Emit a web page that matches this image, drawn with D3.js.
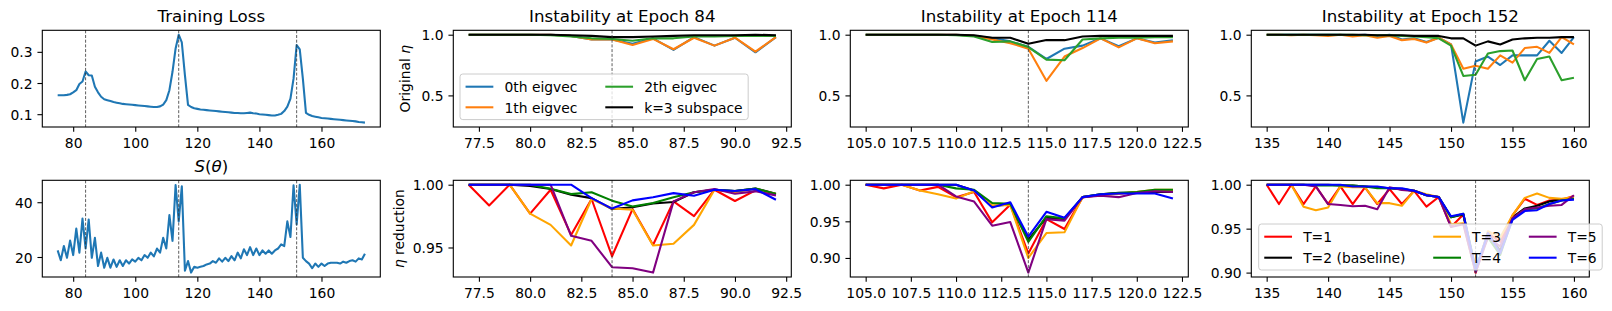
<html>
<script src="https://d3js.org/d3.v7.min.js"></script>
<style>
    body {margin: 0; background: white;}
    text {font-family: "DejaVu Sans", sans-serif; fill: black;}
</style>
<body>
<svg width=1612 height=311></svg>
<script>
// ---- data ----
const lossEpochs = [75,76,77,78,79,80,81,82,83,84,85,86,87,88,89,90,91,92,93,94,
    95,96,97,98,99,100,101,102,103,104,105,106,107,108,109,110,111,112,113,114,
    115,116,117,118,119,120,121,122,123,124,125,126,127,128,129,130,131,132,133,134,
    135,136,137,138,139,140,141,142,143,144,145,146,147,148,149,150,151,152,153,154,
    155,156,157,158,159,160,161,162,163,164,165,166,167,168,169,170,171,172,173,174];
const trainLoss = [0.161,0.161,0.161,0.162,0.164,0.170,0.177,0.197,0.205,0.237,
    0.225,0.224,0.188,0.170,0.156,0.148,0.145,0.142,0.139,0.137,
    0.135,0.133,0.132,0.131,0.130,0.129,0.128,0.127,0.126,0.125,
    0.124,0.123,0.123,0.125,0.131,0.145,0.177,0.236,0.311,0.355,
    0.330,0.225,0.130,0.123,0.119,0.117,0.115,0.114,0.113,0.112,
    0.111,0.110,0.109,0.108,0.107,0.106,0.105,0.104,0.104,0.103,
    0.103,0.104,0.105,0.103,0.102,0.100,0.099,0.098,0.097,0.096,
    0.096,0.098,0.101,0.110,0.124,0.150,0.214,0.322,0.308,0.214,
    0.104,0.098,0.094,0.092,0.090,0.088,0.087,0.086,0.085,0.084,
    0.083,0.082,0.081,0.080,0.079,0.078,0.077,0.075,0.074,0.073];
const sharpness = [22.4,18.8,24.0,19.7,26.0,20.7,30.4,21.6,34.0,23.1,
    33.7,19.7,27.0,16.7,21.6,16.1,19.7,16.1,19.1,16.4,
    18.8,16.7,18.8,17.6,19.1,18.3,19.7,18.8,20.7,19.7,
    21.6,20.2,23.1,21.6,27.0,23.1,35.3,25.9,46.3,33.0,
    45.8,15.0,18.5,14.3,16.4,16.1,16.4,16.7,17.3,17.6,
    18.5,17.9,19.5,18.3,19.7,18.5,20.3,18.8,21.6,19.5,
    22.8,20.7,23.6,20.7,23.1,20.7,22.4,21.2,22.4,21.2,
    22.4,23.1,24.6,24.0,33.0,27.3,46.2,31.9,46.4,19.7,
    18.5,17.6,15.9,17.6,16.4,17.6,16.7,17.6,17.9,17.9,
    17.9,17.6,18.3,17.9,18.5,18.8,18.3,19.5,19.1,21.2];

const instEpochs = [84, 114, 152];

const ep84 = [77,78,79,80,81,82,83,84,85,86,87,88,89,90,91,92];
const orig84 = [
    [1,1,1,1,1,0.99,0.96,0.96,0.925,0.97,0.875,0.98,0.91,0.975,0.855,0.98],
    [1,1,1,1,1,0.99,0.96,0.96,0.915,0.965,0.88,0.975,0.91,0.975,0.86,0.98],
    [1,1,1,1,0.995,0.985,0.97,0.965,0.95,0.97,0.97,0.985,0.985,0.99,0.99,0.99],
    [1,1,1,1,1,0.995,0.99,0.98,0.98,0.985,0.99,0.995,0.995,0.995,1,0.995]];
const red84 = [
    [1,0.9835,1,0.977,0.996,0.960,0.9886,0.943,0.9806,0.952,0.9867,0.975,0.996,0.987,0.9955,0.992],
    [1,1,1,0.999,0.9965,0.992,0.9893,0.9806,0.982,0.985,0.9862,0.994,0.996,0.995,0.997,0.9928],
    [1,1,1,0.9769,0.968,0.9516,0.9886,0.981,0.98,0.9516,0.953,0.968,0.996,0.994,0.9965,0.9925],
    [1,1,1,1,0.9968,0.9925,0.994,0.9873,0.9827,0.9854,0.99,0.994,0.996,0.995,0.997,0.9925],
    [1,1,1,1,1,0.9593,0.9553,0.9343,0.9335,0.930,0.9867,0.994,0.9965,0.9928,0.9947,0.9915],
    [1,1,1,1,1,1,0.9893,0.981,0.9875,0.99,0.9933,0.9912,0.996,0.995,0.9965,0.988]];

const ep114 = [105,106,107,108,109,110,111,112,113,114,115,116,117,118,119,120,121,122];
const orig114 = [
    [1,1,1,1,1,1,0.99,0.972,0.945,0.9,0.8,0.885,0.91,0.97,0.905,0.97,0.935,0.955],
    [1,1,1,1,1,1,0.99,0.961,0.93,0.885,0.62,0.82,0.89,0.97,0.895,0.97,0.93,0.945],
    [1,1,1,1,1,0.995,0.985,0.94,0.945,0.898,0.795,0.79,0.96,0.97,0.975,0.975,0.98,0.98],
    [1,1,1,1,1,1,0.995,0.975,0.975,0.925,0.957,0.955,0.985,0.99,0.99,0.99,0.99,0.99]];
const red114 = [
    [1,0.995,1,0.992,0.997,0.983,0.99,0.9486,0.9727,0.906,0.953,0.9395,0.9827,0.986,0.9877,0.99,0.9918,0.9918],
    [1,1,1,1,1,1,0.992,0.971,0.973,0.925,0.955,0.953,0.983,0.987,0.989,0.989,0.99,0.99],
    [1,1,1,0.992,0.987,0.981,0.991,0.972,0.972,0.9,0.934,0.935,0.983,0.986,0.988,0.99,0.993,0.993],
    [1,1,1,1,1,0.995,0.993,0.975,0.974,0.922,0.957,0.954,0.983,0.987,0.9886,0.99,0.993,0.993],
    [1,1,1,1,1,0.984,0.977,0.944,0.949,0.880,0.953,0.951,0.983,0.985,0.983,0.9886,0.991,0.99],
    [1,1,1,1,1,1,0.992,0.969,0.976,0.929,0.963,0.955,0.983,0.987,0.988,0.988,0.988,0.981]];

const ep152 = [135,136,137,138,139,140,141,142,143,144,145,146,147,148,149,150,151,152,153,154,155,156,157,158,159,160];
const orig152 = [
    [1,1,1,1,1,1,1,0.995,1,0.99,1,0.96,0.97,0.94,0.975,0.92,0.276,0.78,0.82,0.75,0.83,0.83,0.83,0.95,0.85,0.98],
    [1,1,0.995,1,0.995,0.99,1,0.985,0.995,0.975,0.99,0.955,0.965,0.935,0.975,0.92,0.72,0.745,0.72,0.83,0.77,0.89,0.9,0.85,0.98,0.92],
    [1,1,1,1,1,1,1,1,0.995,0.995,0.995,0.99,0.985,0.98,0.97,0.91,0.66,0.67,0.845,0.865,0.87,0.625,0.8,0.82,0.625,0.645],
    [1,1,1,1,1,1,1,1,1,0.995,0.995,0.995,0.99,0.99,0.99,0.97,0.97,0.91,0.945,0.92,0.96,0.97,0.975,0.975,0.98,0.98]];
const red152 = [
    [1,0.978,1,0.978,0.998,0.978,0.998,0.978,0.997,0.978,0.995,0.978,0.993,0.975,0.986,0.952,0.966,0.90,0.945,0.935,0.965,0.984,0.977,0.982,0.983,0.987],
    [1,1,1,1,1,1,0.999,0.999,0.998,0.997,0.996,0.995,0.993,0.988,0.986,0.963,0.966,0.903,0.945,0.925,0.963,0.973,0.976,0.981,0.983,0.984],
    [1,1,1,0.975,0.971,0.974,0.998,0.997,0.997,0.979,0.979,0.976,0.993,0.989,0.986,0.955,0.956,0.90,0.947,0.94,0.965,0.985,0.99,0.985,0.984,0.986],
    [1,1,1,1,0.999,0.999,0.999,0.999,0.998,0.996,0.996,0.995,0.993,0.988,0.986,0.963,0.967,0.905,0.94,0.92,0.961,0.972,0.973,0.978,0.982,0.984],
    [1,1,1,1,0.998,0.978,0.977,0.9755,0.976,0.972,0.997,0.994,0.993,0.988,0.986,0.952,0.955,0.90,0.94,0.93,0.962,0.972,0.974,0.976,0.977,0.988],
    [1,1,1,1,1,1,1,0.998,0.998,0.998,0.996,0.996,0.993,0.988,0.986,0.964,0.967,0.903,0.945,0.922,0.96,0.97,0.971,0.978,0.982,0.983]];

const eigNames = ["0th eigvec", "1th eigvec", "2th eigvec", "k=3 subspace"];
const eigColors = ["#1f77b4", "#ff7f0e", "#2ca02c", "black"];
const tNames = ["T=1", "T=2 (baseline)", "T=3", "T=4", "T=5", "T=6"];
const tColors = ["red", "black", "orange", "green", "purple", "blue"];

const lossTicksX = [80, 100, 120, 140, 160];
const lossTicksY = [0.1, 0.2, 0.3];
const sharpTicksY = [20, 40];
const ticks84 = [77.5, 80, 82.5, 85, 87.5, 90, 92.5];
const ticks114 = [105, 107.5, 110, 112.5, 115, 117.5, 120, 122.5];
const ticks152 = [135, 140, 145, 150, 155, 160];
const origTicksY = [0.5, 1.0];

// ---- layout ----
const colX = [42.3, 453.3, 850.3, 1251.3];
const rowY = [30.3, 180.3];
const W = 338, H = 96.7;
const FS = 13.89, TFS = 16.67;
const svg = d3.select('svg');

function pad(ext) {
    const r = ext[1] - ext[0];
    return [ext[0] - 0.05 * r, ext[1] + 0.05 * r];
}

function panel(o) {
    const g = svg.append("g").attr("transform", "translate(" + o.x + "," + o.y + ")");
    const xs = d3.scaleLinear().domain(pad(d3.extent(o.xs))).range([0, W]);
    const ys = d3.scaleLinear().domain(o.ydom).range([H, 0]);

    o.series.forEach(function(s) {
        g.append("path")
            .datum(s.v)
            .attr("d", d3.line().x((d, i) => xs(o.xs[i])).y(d => ys(d)))
            .attr("fill", "none")
            .attr("stroke", s.color)
            .attr("stroke-width", 2.08)
            .attr("stroke-linejoin", "round");
    });

    o.vlines.forEach(function(v) {
        g.append("line")
            .attr("x1", xs(v)).attr("x2", xs(v))
            .attr("y1", 0).attr("y2", H)
            .attr("stroke", "#333")
            .attr("stroke-width", 0.8)
            .attr("stroke-dasharray", "3,1.7");
    });

    const ax = g.append("g")
        .attr("transform", "translate(0," + H + ")")
        .call(d3.axisBottom(xs).tickValues(o.xticks).tickFormat(o.xfmt)
            .tickSize(4.86).tickPadding(4.86));
    ax.selectAll("text").attr("dy", "0.83em");
    const ay = g.append("g")
        .call(d3.axisLeft(ys).tickValues(o.yticks).tickFormat(o.yfmt)
            .tickSize(4.86).tickPadding(4.86));
    ay.selectAll("text").attr("dy", "0.36em");
    [ax, ay].forEach(function(a) {
        a.select(".domain").remove();
        a.selectAll("line").attr("stroke", "black").attr("stroke-width", 1.1);
        a.selectAll("text").style("font-size", FS + "px").attr("font-family", null);
    });

    g.append("rect")
        .attr("width", W).attr("height", H)
        .attr("fill", "none")
        .attr("stroke", "black")
        .attr("stroke-width", 1.1);

    if (o.title) {
        const t = g.append("text")
            .attr("x", W / 2).attr("y", -8.2)
            .attr("text-anchor", "middle")
            .style("font-size", TFS + "px");
        o.title(t);
    }
    if (o.ylabel) {
        const t = g.append("text")
            .attr("transform", "translate(" + o.ylabelX + "," + (H / 2) + ") rotate(-90)")
            .attr("text-anchor", "middle")
            .attr("dy", "0.36em")
            .style("font-size", FS + "px");
        o.ylabel(t);
    }
    return g;
}

function legend(x0, y0, names, colors, ncol, rowGap) {
    const g = svg.append("g").attr("transform", "translate(" + x0 + "," + y0 + ")");
    const bp = 0.4 * FS, hl = 2 * FS, tp = 0.8 * FS, cs = 2 * FS;
    const box = g.append("rect").attr("rx", 2.8).attr("ry", 2.8)
        .attr("fill", "white").attr("fill-opacity", 0.8)
        .attr("stroke", "#cccccc").attr("stroke-width", 1);
    const nrow = Math.ceil(names.length / ncol);
    let cx = bp;
    for (let c = 0; c < ncol; c++) {
        let wmax = 0;
        for (let r = 0; r < nrow; r++) {
            const k = c * nrow + r;
            if (k >= names.length) continue;
            const cy = 12.7 + r * rowGap;
            g.append("line")
                .attr("x1", cx).attr("x2", cx + hl)
                .attr("y1", cy).attr("y2", cy)
                .attr("stroke", colors[k]).attr("stroke-width", 2.08);
            const t = g.append("text")
                .attr("x", cx + hl + tp).attr("y", cy)
                .attr("dy", "0.38em")
                .style("font-size", FS + "px")
                .text(names[k]);
            wmax = Math.max(wmax, t.node().getComputedTextLength());
        }
        cx += hl + tp + wmax + (c < ncol - 1 ? cs : 0);
    }
    box.attr("x", 0).attr("y", 0)
        .attr("width", cx + bp)
        .attr("height", 12.7 + (nrow - 1) * rowGap + 12.3);
}

const f0 = d3.format("d"), f1 = d3.format(".1f"), f2 = d3.format(".2f");

// Training loss
panel({x: colX[0], y: rowY[0], xs: lossEpochs, ydom: pad(d3.extent(trainLoss)),
    series: [{v: trainLoss, color: "#1f77b4"}], vlines: instEpochs,
    xticks: lossTicksX, xfmt: f0, yticks: lossTicksY, yfmt: f1,
    title: t => t.text("Training Loss")});

// S(theta)
panel({x: colX[0], y: rowY[1], xs: lossEpochs, ydom: pad(d3.extent(sharpness)),
    series: [{v: sharpness, color: "#1f77b4"}], vlines: instEpochs,
    xticks: lossTicksX, xfmt: f0, yticks: sharpTicksY, yfmt: f0,
    title: function(t) {
        t.append("tspan").style("font-style", "italic").text("S");
        t.append("tspan").text("(");
        t.append("tspan").style("font-style", "italic").text("θ");
        t.append("tspan").text(")");
    }});

// shared y for top instability row
const topDom = pad(d3.extent([].concat(...orig84, ...orig114, ...orig152)));
const epochsList = [ep84, ep114, ep152];
const origList = [orig84, orig114, orig152];
const redList = [red84, red114, red152];
const xtickList = [ticks84, ticks114, ticks152];
const xfmtList = [f1, f1, f0];
const botTicks = [[0.95, 1.00], [0.90, 0.95, 1.00], [0.90, 0.95, 1.00]];

for (let i = 0; i < 3; i++) {
    panel({x: colX[i + 1], y: rowY[0], xs: epochsList[i], ydom: topDom,
        series: origList[i].map((v, k) => ({v: v, color: eigColors[k]})),
        vlines: [instEpochs[i]],
        xticks: xtickList[i], xfmt: xfmtList[i], yticks: origTicksY, yfmt: f1,
        title: t => t.text("Instability at Epoch " + instEpochs[i]),
        ylabel: i === 0 ? function(t) {
            t.append("tspan").text("Original ");
            t.append("tspan").style("font-style", "italic").text("η");
        } : null,
        ylabelX: -48.3});
    panel({x: colX[i + 1], y: rowY[1], xs: epochsList[i],
        ydom: pad(d3.extent([].concat(...redList[i]))),
        series: redList[i].map((v, k) => ({v: v, color: tColors[k]})),
        vlines: [instEpochs[i]],
        xticks: xtickList[i], xfmt: xfmtList[i], yticks: botTicks[i], yfmt: f2,
        ylabel: i === 0 ? function(t) {
            t.append("tspan").style("font-style", "italic").text("η");
            t.append("tspan").text(" reduction");
        } : null,
        ylabelX: -54});
}

legend(460, 74, eigNames, eigColors, 2, 20.6);
legend(1258.7, 224, tNames, tColors, 3, 21);
</script>
</body>
</html>
